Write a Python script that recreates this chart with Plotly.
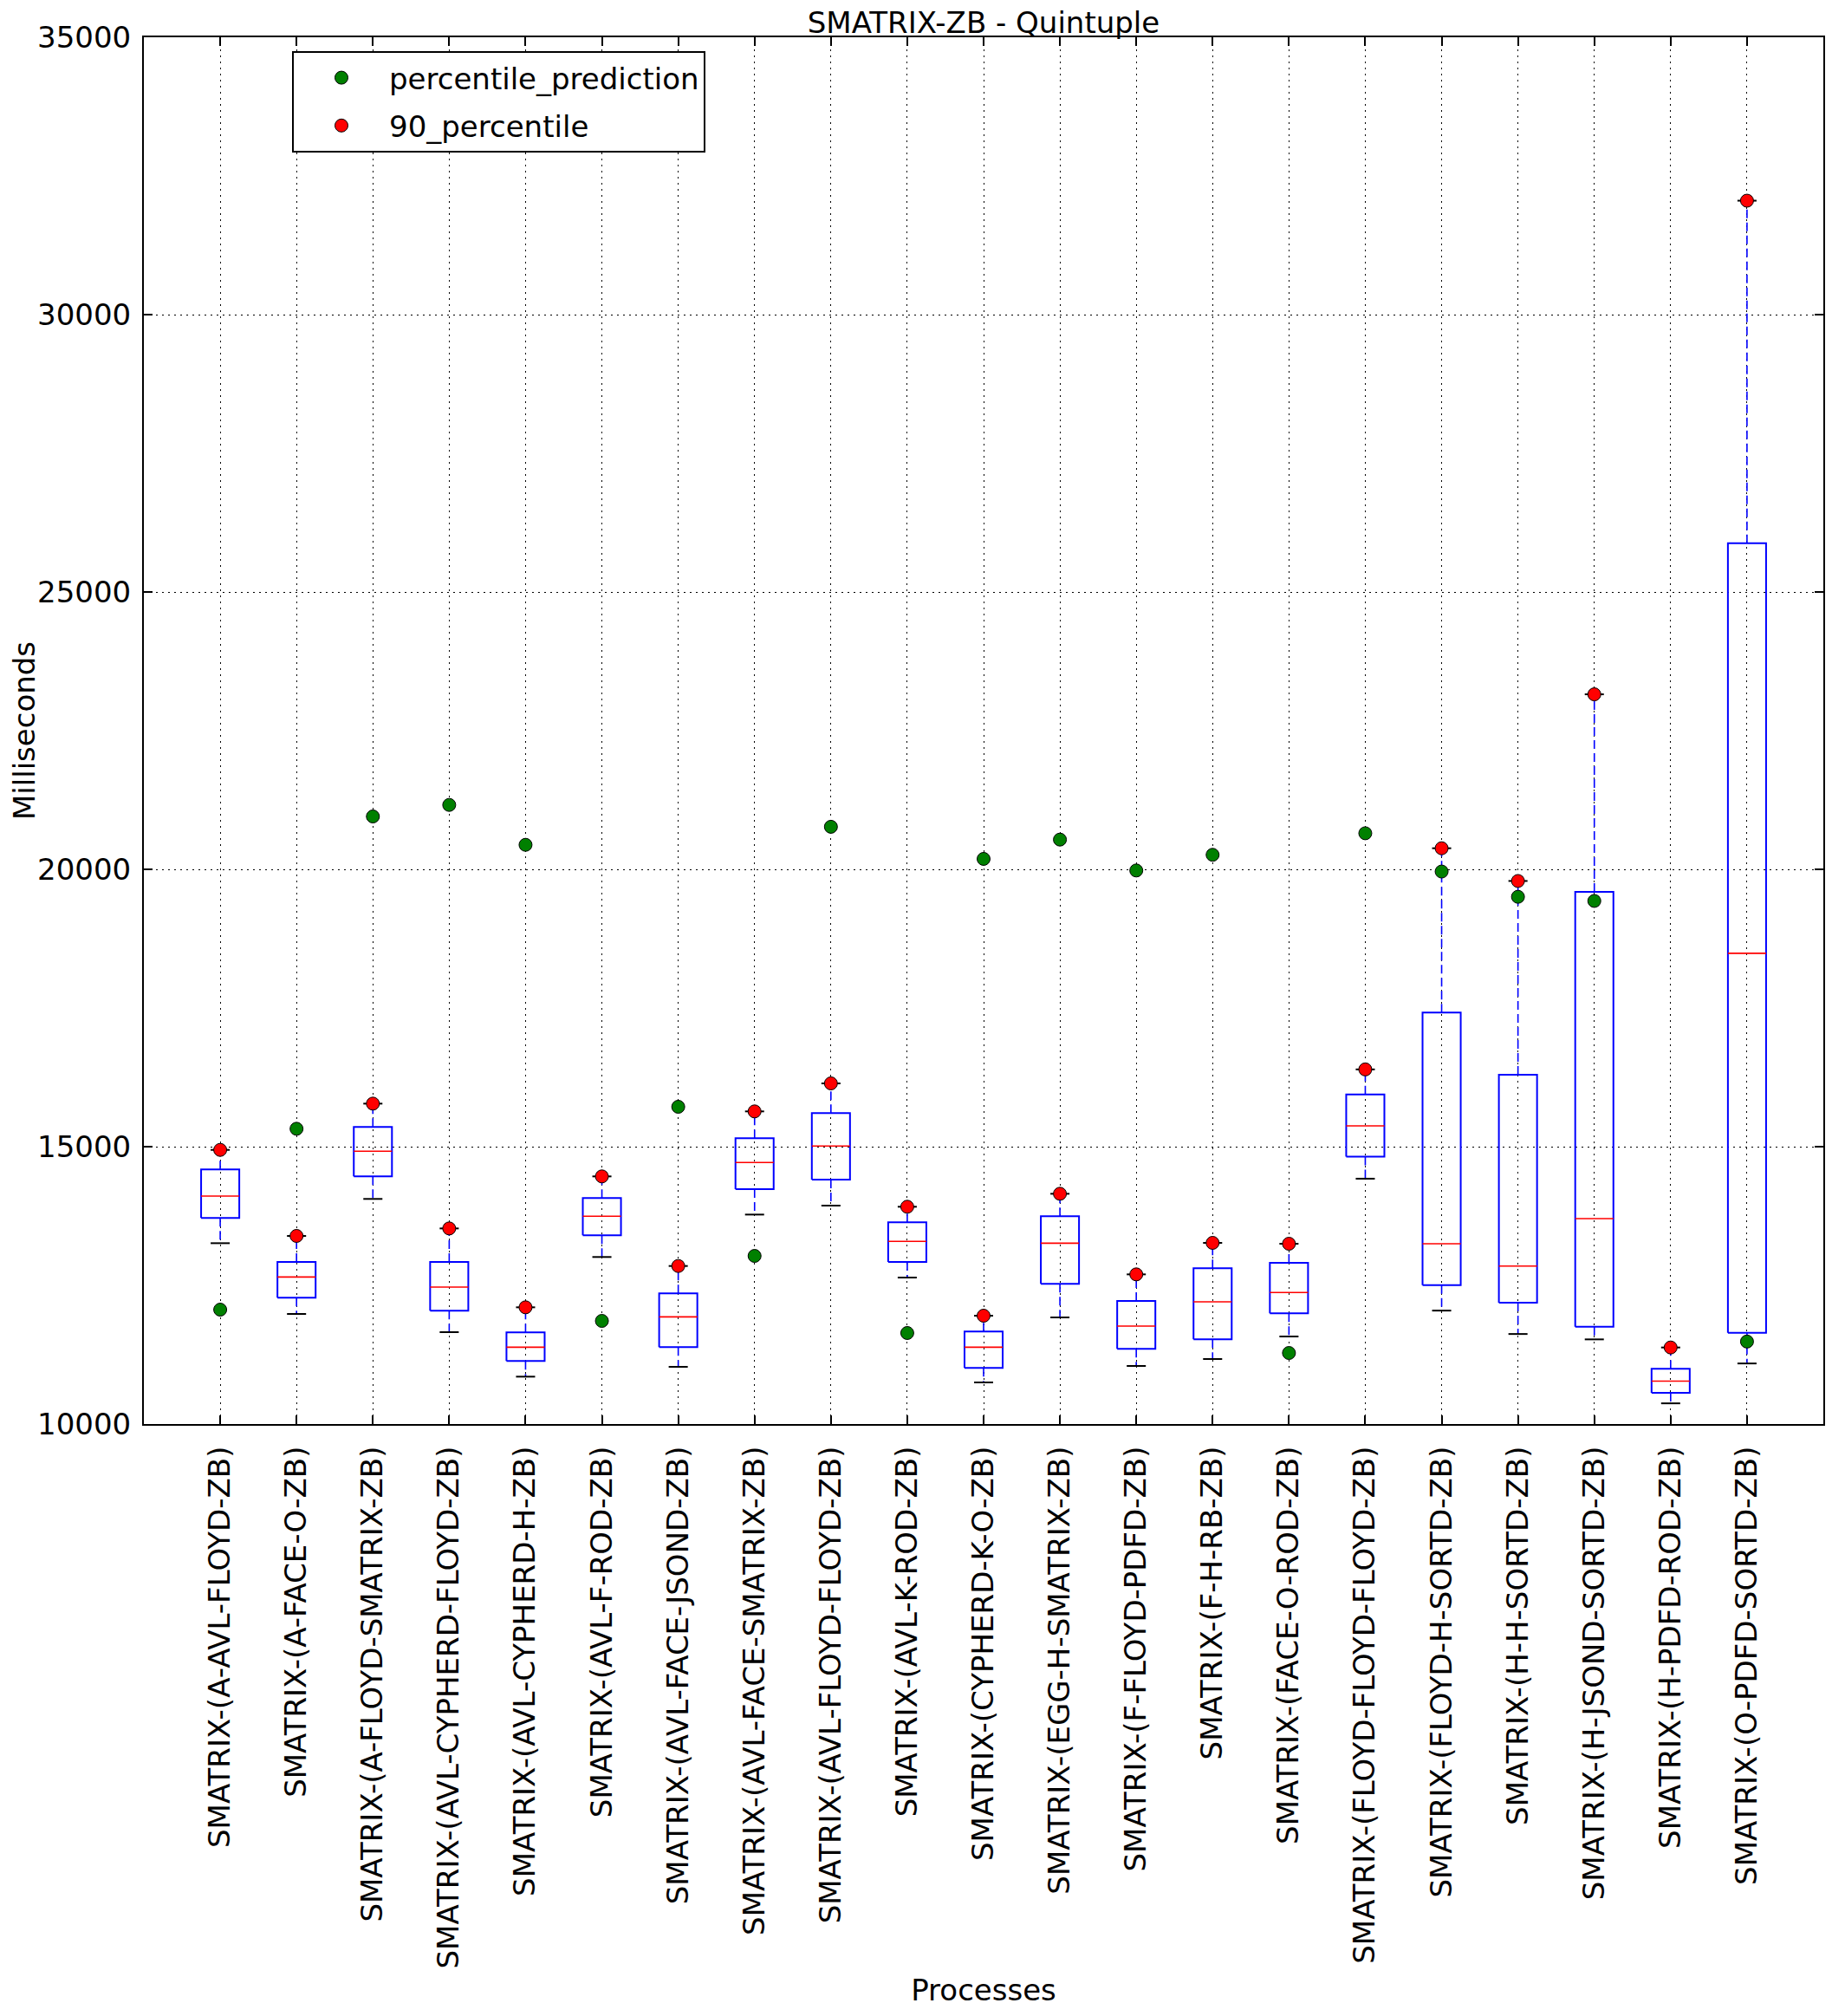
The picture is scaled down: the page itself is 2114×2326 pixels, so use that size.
import plotly.graph_objects as go

# ---- data ----
processes = [
    "SMATRIX-(A-AVL-FLOYD-ZB)",
    "SMATRIX-(A-FACE-O-ZB)",
    "SMATRIX-(A-FLOYD-SMATRIX-ZB)",
    "SMATRIX-(AVL-CYPHERD-FLOYD-ZB)",
    "SMATRIX-(AVL-CYPHERD-H-ZB)",
    "SMATRIX-(AVL-F-ROD-ZB)",
    "SMATRIX-(AVL-FACE-JSOND-ZB)",
    "SMATRIX-(AVL-FACE-SMATRIX-ZB)",
    "SMATRIX-(AVL-FLOYD-FLOYD-ZB)",
    "SMATRIX-(AVL-K-ROD-ZB)",
    "SMATRIX-(CYPHERD-K-O-ZB)",
    "SMATRIX-(EGG-H-SMATRIX-ZB)",
    "SMATRIX-(F-FLOYD-PDFD-ZB)",
    "SMATRIX-(F-H-RB-ZB)",
    "SMATRIX-(FACE-O-ROD-ZB)",
    "SMATRIX-(FLOYD-FLOYD-FLOYD-ZB)",
    "SMATRIX-(FLOYD-H-SORTD-ZB)",
    "SMATRIX-(H-H-SORTD-ZB)",
    "SMATRIX-(H-JSOND-SORTD-ZB)",
    "SMATRIX-(H-PDFD-ROD-ZB)",
    "SMATRIX-(O-PDFD-SORTD-ZB)",
]

whisker_low = [13260, 11984, 14058, 11656, 10854, 13011, 11031, 13776, 13938, 12641, 10750,
               11922, 11047, 11172, 11578, 14423, 12045, 11623, 11526, 10373, 11092]
q1 = [13714, 12276, 14464, 12042, 11135, 13401, 11385, 14234, 14406, 12922, 11010,
      12526, 11354, 11526, 11995, 14819, 12505, 12187, 11753, 10561, 11643]
median = [14109, 12651, 14917, 12469, 11385, 13745, 11932, 14714, 15011, 13292, 11385,
          13260, 11766, 12203, 12370, 15376, 13250, 12848, 13704, 10774, 18487]
q3 = [14589, 12922, 15355, 12922, 11651, 14073, 12354, 15151, 15605, 13636, 11667,
      13745, 12219, 12807, 12906, 15940, 17417, 16296, 19593, 10995, 25877]
whisker_high = [14942, 13391, 15776, 13526, 12104, 14464, 12849, 15636, 16141, 13917, 11953,
                14151, 12698, 13266, 13250, 16393, 20380, 19790, 23155, 11380, 32054]

percentile_prediction = [12062, 15323, 20953, 21161, 20442, 11859, 15719, 13031, 20767, 11641, 20188,
                         20536, 19979, 20262, 11281, 20650, 19960, 19505, 19430, None, 11487]
percentile_90 = [14942, 13391, 15776, 13526, 12104, 14464, 12849, 15636, 16141, 13917, 11953,
                 14151, 12698, 13266, 13250, 16393, 20380, 19790, 23155, 11380, 32054]

y_ticks = [10000, 15000, 20000, 25000, 30000, 35000]

# ---- geometry derived from the data ----
positions = list(range(1, len(processes) + 1))
BOX_HALF = 0.25
CAP_HALF = 0.125

box_x, box_y = [], []
med_x, med_y = [], []
wh_x, wh_y = [], []
cap_x, cap_y = [], []
for p, lo, a, m, b, hi in zip(positions, whisker_low, q1, median, q3, whisker_high):
    box_x += [p - BOX_HALF, p + BOX_HALF, p + BOX_HALF, p - BOX_HALF, p - BOX_HALF, None]
    box_y += [a, a, b, b, a, None]
    med_x += [p - BOX_HALF, p + BOX_HALF, None]
    med_y += [m, m, None]
    wh_x += [p, p, None, p, p, None]
    wh_y += [b, hi, None, a, lo, None]
    cap_x += [p - CAP_HALF, p + CAP_HALF, None, p - CAP_HALF, p + CAP_HALF, None]
    cap_y += [hi, hi, None, lo, lo, None]

FONT = "DejaVu Sans, Bitstream Vera Sans, sans-serif"

fig = go.Figure()
fig.add_trace(go.Scatter(x=wh_x, y=wh_y, mode="lines", showlegend=False, hoverinfo="skip",
                         line=dict(color="#0000ff", width=1.6, dash="10px,5px")))
fig.add_trace(go.Scatter(x=cap_x, y=cap_y, mode="lines", showlegend=False, hoverinfo="skip",
                         line=dict(color="black", width=2)))
fig.add_trace(go.Scatter(x=box_x, y=box_y, mode="lines", showlegend=False, hoverinfo="skip",
                         line=dict(color="#0000ff", width=2)))
fig.add_trace(go.Scatter(x=med_x, y=med_y, mode="lines", showlegend=False, hoverinfo="skip",
                         line=dict(color="#ff0000", width=1.6)))
fig.add_trace(go.Scatter(x=positions, y=percentile_prediction, mode="markers",
                         name="percentile_prediction", legendgroup="pred",
                         marker=dict(color="#008000", size=15, line=dict(color="black", width=1))))
fig.add_trace(go.Scatter(x=positions, y=percentile_90, mode="markers",
                         name="90_percentile", legendgroup="p90",
                         marker=dict(color="#ff0000", size=15, line=dict(color="black", width=1))))

axis_common = dict(
    showline=True, linecolor="black", linewidth=2, mirror="ticks",
    ticks="inside", ticklen=10, tickwidth=1.5, tickcolor="black",
    showgrid=True, gridcolor="black", gridwidth=1, griddash="2px,5px",
    zeroline=False, automargin=False,
    tickfont=dict(family=FONT, size=34, color="black"),
)

# the page body adds an 8px offset; margins are compensated for it
fig.update_layout(
    width=2114, height=2326,
    margin=dict(l=158, r=18, t=35, b=691),
    paper_bgcolor="white", plot_bgcolor="white",
    font=dict(family=FONT, size=34, color="black"),
    title=dict(text="SMATRIX-ZB - Quintuple", x=0.5, xref="paper", xanchor="center",
               y=1 - 18 / 2326, yref="container", yanchor="middle",
               font=dict(family=FONT, size=34, color="black")),
    xaxis=dict(axis_common, range=[0, len(processes) + 1], tickmode="array",
               tickvals=positions, ticktext=processes, tickangle=-90,
               ticklabelstandoff=10,
               title=dict(text="Processes", standoff=14, font=dict(family=FONT, size=34))),
    yaxis=dict(axis_common, range=[10000, 35000], tickmode="array", tickvals=y_ticks,
               ticktext=[str(v) for v in y_ticks], ticklabelstandoff=6,
               title=dict(text="Milliseconds", standoff=4, font=dict(family=FONT, size=34))),
    legend=dict(x=(337 - 166) / 1938, y=1 - (59 - 43) / 1600, xanchor="left", yanchor="top",
                bgcolor="white", bordercolor="black", borderwidth=2, tracegroupgap=8,
                font=dict(family=FONT, size=34, color="black"), itemwidth=100),
)

fig.write_html("out.html")
